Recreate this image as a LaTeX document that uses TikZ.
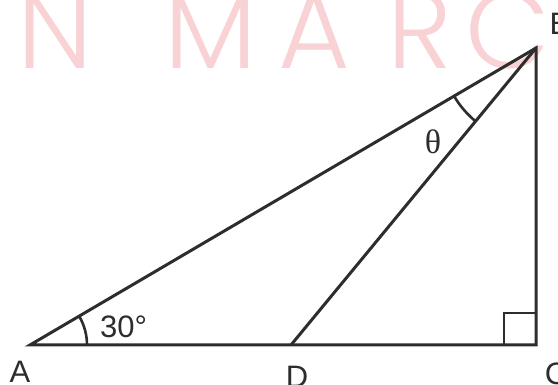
\documentclass[tikz,border=0pt]{standalone}
\usepackage{fontspec}
\usepackage{tikz}
\usetikzlibrary{angles}
\setmainfont{Liberation Sans}
\newfontfamily\markfont{Poppins}[UprightFont=* Light]
\newfontfamily\serifgreek{Liberation Serif}
\definecolor{edgegray}{RGB}{45, 45, 45}
\definecolor{markpink}{RGB}{248, 210, 212}

\begin{document}
\begin{tikzpicture}[
  x=1pt, y=1pt,
  side/.style={line width=3pt, draw=edgegray},
  anglemark/.style={draw=edgegray, line width=2.6pt},
  vertex/.style={anchor=base, inner sep=0pt, text=edgegray, font=\fontsize{31}{31}\selectfont},
  watermark/.style={anchor=base, inner sep=0pt, text=markpink, font=\markfont\fontsize{110}{110}\selectfont}
]
  \useasboundingbox (0,0) rectangle (558,385);

  % faint watermark behind the figure
  \foreach \ch/\xx in {N/55, M/211, A/314, R/420, C/508}
    \node[watermark] (wm\ch) at (\xx,316) {\ch};

  \coordinate (A) at (30,40);
  \coordinate (B) at (536,337);
  \coordinate (C) at (536,40);
  \coordinate (D) at (291,40);

  \draw[side] (A) -- (B) -- (C) -- cycle;
  \draw[side] (B) -- (D);

  % angle marks
  \pic[anglemark, angle radius=57pt] {angle=D--A--B};
  \pic[anglemark, angle radius=95pt] {angle=A--B--D};
  \draw[side, line width=2.6pt] (C) ++(-32,0) -- ++(0,32) -- ++(32,0);

  \node[vertex] (lA) at (20,2) {A};
  \node[vertex] (lB) at (560,350) {B};
  \node[vertex] (lC) at (556,0) {C};
  \node[vertex] (lD) at (297,-3) {D};
  \node[vertex, anchor=base west] (l30) at (100,47) {30°};
  \node[text=edgegray, inner sep=0pt, font=\serifgreek\fontsize{34}{34}\selectfont] (ltheta) at (433,243) {θ};
\end{tikzpicture}
\end{document}
